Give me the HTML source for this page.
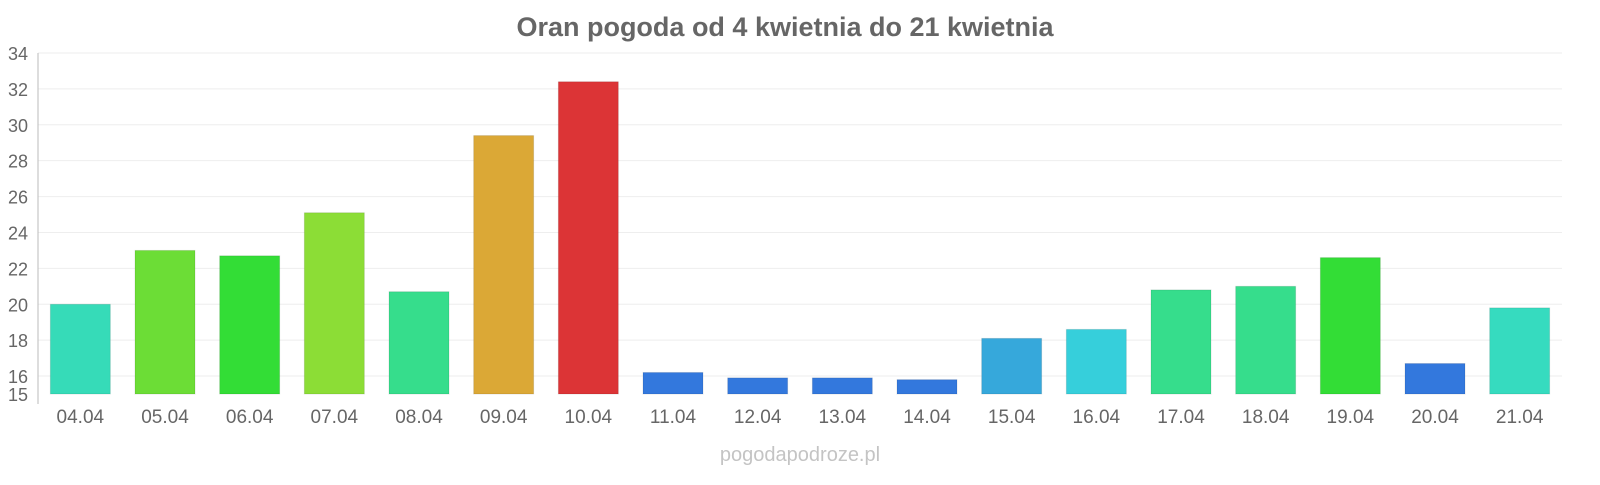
<!DOCTYPE html>
<html><head><meta charset="utf-8"><style>
body{margin:0;background:#fff;width:1600px;height:480px;overflow:hidden;font-family:"Liberation Sans",sans-serif}
</style></head><body>
<svg id="c" width="1600" height="480" font-family="Liberation Sans, sans-serif">
<text x="785" y="36" text-anchor="middle" font-size="27" font-weight="bold" fill="#666">Oran pogoda od 4 kwietnia do 21 kwietnia</text>
<text x="800" y="461" text-anchor="middle" font-size="20" fill="#c4c4c4">pogodapodroze.pl</text>
<g id="g"></g>
</svg>
<script>
const categories=["04.04","05.04","06.04","07.04","08.04","09.04","10.04","11.04","12.04","13.04","14.04","15.04","16.04","17.04","18.04","19.04","20.04","21.04"];
const values=[20.0,23.0,22.7,25.1,20.7,29.4,32.4,16.2,15.9,15.9,15.8,18.1,18.6,20.8,21.0,22.6,16.7,19.8];
const colors=["#36dbb8","#6cdd36","#33dd36","#8cdd36","#36dd8c","#dba836","#dc3436","#3378dd","#3378dd","#3378dd","#3378dd","#36a8db","#36cfdb","#36dd8c","#36dd8c","#33dd36","#3378dd","#36dbbf"];
const ticks=[15,16,18,20,22,24,26,28,30,32,34];
const x0=38,x1=1562,yMin=15,yMax=34,yB=394,yT=53;
const y=v=>yB-(v-yMin)*(yB-yT)/(yMax-yMin);
const step=(x1-x0)/categories.length;
const xc=i=>x0+step*(i+0.5);
const g=document.getElementById('g');
const ns="http://www.w3.org/2000/svg";
function mk(t,a){const e=document.createElementNS(ns,t);for(const k in a)e.setAttribute(k,a[k]);g.appendChild(e);return e;}
ticks.forEach(t=>{
 if(t!==15){const l=mk('line',{x1:x0,x2:x1,y1:y(t),y2:y(t),stroke:'#eee','stroke-width':1});
 
 }
 const tx=mk('text',{x:28,y:y(t)+7,'text-anchor':'end','font-size':18,fill:'#666'});
 tx.textContent=t;
 
 
});
const ax=mk('line',{x1:x0,x2:x0,y1:yT,y2:404,stroke:'#bbb','stroke-width':1});


categories.forEach((c,i)=>{
 const r=mk('rect',{x:xc(i)-30,y:y(values[i]),width:60,height:yB-y(values[i]),fill:colors[i],stroke:'rgba(0,0,0,0.1)','stroke-width':1});
 
 
 const t=mk('text',{x:xc(i),y:423,'text-anchor':'middle','font-size':19,fill:'#666'});
 t.textContent=c;
 
 
});
</script>
</body></html>
